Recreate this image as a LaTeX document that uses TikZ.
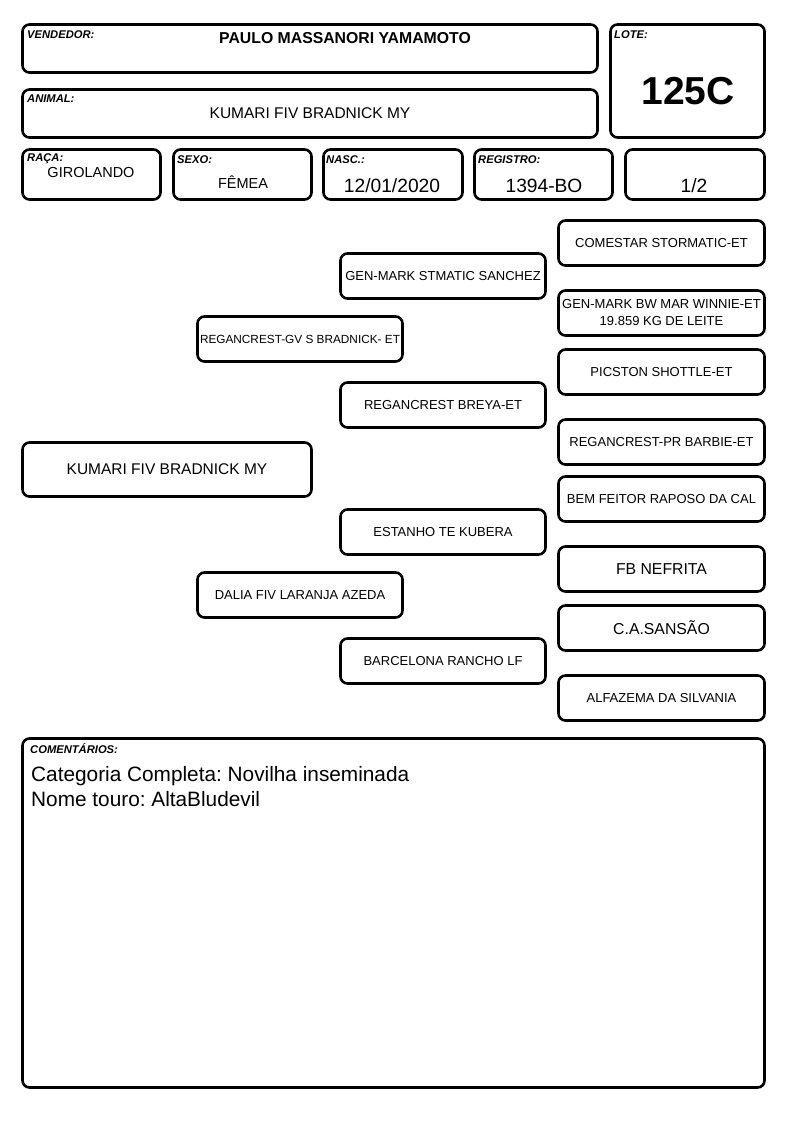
\documentclass[tikz,border=0pt]{standalone}
\usepackage{fontspec}
\setmainfont{Liberation Sans}
\frenchspacing
\newcommand\fsz[1]{\fontsize{#1}{#1}\selectfont}
\newcommand\pbox[7]{% name, x1, y1, x2, y2, style, content
  \node[box, #6, minimum width={#4pt-#2pt-3pt}, minimum height={#5pt-#3pt-3pt}] (#1)
    at ({(#2+#4)/2},{(#3+#5)/2}) {#7};}
\begin{document}
\begin{tikzpicture}[x=1pt, y=-1pt,
  box/.style={draw=black, line width=2.6pt, rounded corners=7pt, inner sep=0pt, align=center},
  ped/.style={font=\fsz{13}},
  pedbig/.style={font=\fsz{15.8}},
  lbl/.style={anchor=base west, inner sep=0pt, font=\fsz{11.2}\bfseries\itshape},
  val/.style={anchor=base, inner sep=0pt, font=\fsz{14.5}},
  valbig/.style={anchor=base, inner sep=0pt, font=\fsz{19.2}}]
\useasboundingbox (0,0) rectangle (794,1123);
% header
\pbox{vend}{21}{23}{599}{74}{}{}
\pbox{lote}{609}{23}{766}{139}{}{}
\pbox{anim}{21}{88}{599}{139}{}{}
\pbox{raca}{21}{148}{162}{201}{}{}
\pbox{sexo}{172}{148}{313}{201}{}{}
\pbox{nasc}{322}{148}{464}{201}{}{}
\pbox{regi}{473}{148}{614}{201}{}{}
\pbox{frac}{624}{148}{766}{201}{}{}
\node[lbl] (vendl) at (27,39) {VENDEDOR:};
\node[val, font=\fsz{15.8}\bfseries] (vendv) at (345,43.5) {PAULO MASSANORI YAMAMOTO};
\node[lbl] (lotel) at (614,39) {LOTE:};
\node[val, font=\fsz{39}\bfseries] (lotev) at (688,105) {125C};
\node[lbl] (animl) at (27,103) {ANIMAL:};
\node[val, font=\fsz{15.5}] (animv) at (310,119) {KUMARI FIV BRADNICK MY};
\node[lbl] (racal) at (27,162) {RAÇA:};
\node[val] (racav) at (91,177.5) {GIROLANDO};
\node[lbl] (sexol) at (177,164) {SEXO:};
\node[val] (sexov) at (243,189) {FÊMEA};
\node[lbl] (nascl) at (326,164) {NASC.:};
\node[valbig] (nascv) at (392,193) {12/01/2020};
\node[lbl] (regil) at (478,164) {REGISTRO:};
\node[valbig] (regiv) at (544,193) {1394-BO};
\node[valbig] (fracv) at (694,193) {1/2};
% pedigree
\pbox{p0}{21}{441}{313}{498}{font=\fsz{15.5}}{KUMARI FIV BRADNICK MY}
\pbox{p1}{196}{315}{404}{363}{font=\fsz{11.8}}{REGANCREST-GV S BRADNICK- ET}
\pbox{p2}{196}{571}{404}{619}{ped}{DALIA FIV LARANJA AZEDA}
\pbox{p11}{339}{252}{547}{300}{ped}{GEN-MARK STMATIC SANCHEZ}
\pbox{p12}{339}{381}{547}{429}{ped}{REGANCREST BREYA-ET}
\pbox{p21}{339}{508}{547}{556}{ped}{ESTANHO TE KUBERA}
\pbox{p22}{339}{637}{547}{685}{ped}{BARCELONA RANCHO LF}
\pbox{p111}{557}{219}{766}{267}{ped}{COMESTAR STORMATIC-ET}
\pbox{p112}{557}{289}{766}{337}{ped}{GEN-MARK BW MAR WINNIE-ET\\[4pt]19.859 KG DE LEITE}
\pbox{p121}{557}{348}{766}{396}{ped}{PICSTON SHOTTLE-ET}
\pbox{p122}{557}{418}{766}{466}{ped}{REGANCREST-PR BARBIE-ET}
\pbox{p211}{557}{475}{766}{523}{ped}{BEM FEITOR RAPOSO DA CAL}
\pbox{p212}{557}{545}{766}{593}{pedbig}{FB NEFRITA}
\pbox{p221}{557}{604}{766}{652}{pedbig}{C.A.SANSÃO}
\pbox{p222}{557}{674}{766}{722}{ped}{ALFAZEMA DA SILVANIA}
% comments
\pbox{coment}{21}{737}{766}{1089}{}{}
\node[lbl] (comentl) at (30,753) {COMENTÁRIOS:};
\node[anchor=base west, inner sep=0pt, font=\fsz{20.8}] (c1) at (31,781) {Categoria Completa: Novilha inseminada};
\node[anchor=base west, inner sep=0pt, font=\fsz{20.8}] (c2) at (31,806) {Nome touro: AltaBludevil};
\end{tikzpicture}
\end{document}
